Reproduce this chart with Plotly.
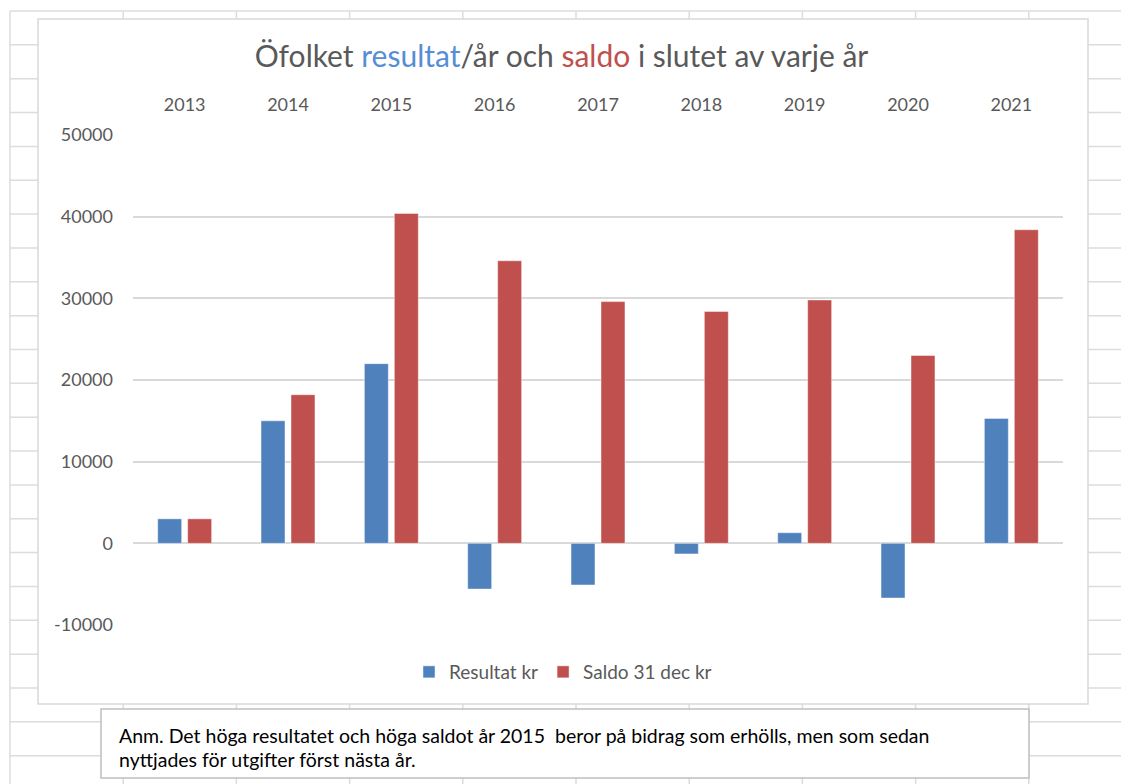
import plotly.graph_objects as go

# ---- data ----
years = ["2013", "2014", "2015", "2016", "2017", "2018", "2019", "2020", "2021"]
resultat = [3000, 15000, 22000, -5600, -5100, -1300, 1300, -6700, 15300]
saldo = [3000, 18200, 40400, 34600, 29600, 28400, 29800, 23000, 38400]
y_tickvals = [-10000, 0, 10000, 20000, 30000, 40000, 50000]
y_ticktext = ["-10000", "0", "10000", "20000", "30000", "40000", "50000"]
series_names = ["Resultat kr", "Saldo 31 dec kr"]
note_lines = [
    "Anm. Det höga resultatet och höga saldot år 2015  beror på bidrag som erhölls, men som sedan",
    "nyttjades för utgifter först nästa år.",
]

# ---- geometry (page has an 8px body margin) ----
OFF = 8
W, H = 1129 - OFF, 784 - OFF
L = 133 - OFF
T = 135 - OFF
R = W - (1063 - OFF)
B = H - (625 - OFF)
PW, PH = W - L - R, H - T - B


def xp(px):
    return (px - OFF - L) / PW


def yp(py):
    return (H - B - (py - OFF)) / PH


FONT = "Lato"
GRAY = "#595959"
BLUE = "#4f81bd"
RED = "#c0504d"

fig = go.Figure()
fig.add_trace(go.Bar(x=years, y=resultat, name=series_names[0],
                     marker=dict(color=BLUE, line=dict(color="rgba(255,255,255,0.45)", width=1))))
fig.add_trace(go.Bar(x=years, y=saldo, name=series_names[1],
                     marker=dict(color=RED, line=dict(color="rgba(255,255,255,0.45)", width=1))))

shapes = []
# spreadsheet grid
grid_col = "#dcdcdc"
for k in range(10):
    x = 10 + 113.2 * k
    shapes.append(dict(type="line", xref="paper", yref="paper", layer="below",
                       x0=xp(x), x1=xp(x), y0=yp(11), y1=yp(800),
                       line=dict(color=grid_col, width=1.5)))
for k in range(23):
    y = 11 + 33.85 * k
    shapes.append(dict(type="line", xref="paper", yref="paper", layer="below",
                       x0=xp(10), x1=xp(1140), y0=yp(y), y1=yp(y),
                       line=dict(color=grid_col, width=1.5)))
# chart box
shapes.append(dict(type="rect", xref="paper", yref="paper", layer="below",
                   x0=xp(38), x1=xp(1088), y0=yp(704), y1=yp(19),
                   fillcolor="white", line=dict(color="#d9d9d9", width=1.5)))
# note box
shapes.append(dict(type="rect", xref="paper", yref="paper", layer="below",
                   x0=xp(101), x1=xp(1029), y0=yp(778), y1=yp(709),
                   fillcolor="white", line=dict(color="#bfbfbf", width=1.5)))

annotations = [
    dict(xref="paper", yref="paper", x=xp(117), y=yp(735), xanchor="left", yanchor="middle",
         text=note_lines[0], showarrow=False, font=dict(family=FONT, size=19.5, color="black")),
    dict(xref="paper", yref="paper", x=xp(117), y=yp(759), xanchor="left", yanchor="middle",
         text=note_lines[1], showarrow=False, font=dict(family=FONT, size=19.5, color="black")),
]

title_text = ("Öfolket <span style='color:#558ed5'>resultat</span>/år och "
              "<span style='color:#c0504d'>saldo</span> i slutet av varje år")

fig.update_layout(
    width=W, height=H,
    margin=dict(l=L, r=R, t=T, b=B, autoexpand=False),
    paper_bgcolor="white",
    plot_bgcolor="rgba(0,0,0,0)",
    font=dict(family=FONT, color=GRAY),
    title=dict(text=title_text, x=xp(561.5), xref="paper", xanchor="center",
               y=1 - (56 - OFF) / H, yref="container", yanchor="middle",
               font=dict(family=FONT, size=30, color=GRAY)),
    barmode="group", bargap=0.42, bargroupgap=0.2,
    showlegend=True,
    legend=dict(orientation="h", x=xp(563), y=yp(672), xanchor="center", yanchor="middle",
                font=dict(family=FONT, size=19, color=GRAY), bgcolor="rgba(0,0,0,0)"),
    shapes=shapes,
    annotations=annotations,
)
fig.update_xaxes(type="category", side="top", showgrid=False, showline=False, ticks="",
                 ticklabelstandoff=19, tickfont=dict(family=FONT, size=18, color=GRAY))
fig.update_yaxes(range=[-10000, 50000], tickvals=y_tickvals, ticktext=y_ticktext,
                 showgrid=True, gridcolor="#d9d9d9", gridwidth=1.5,
                 zeroline=True, zerolinecolor="#d9d9d9", zerolinewidth=1.5,
                 showline=False, ticks="", ticklabelstandoff=19,
                 tickfont=dict(family=FONT, size=18, color=GRAY))

fig.write_html("out.html")
